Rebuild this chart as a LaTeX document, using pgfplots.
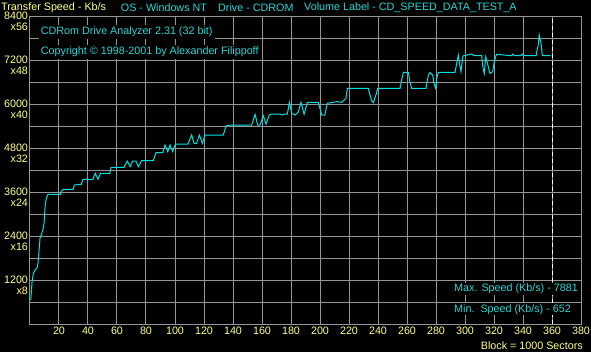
\documentclass[border=0pt]{standalone}
\usepackage{pgfplots}
\pgfplotsset{compat=1.18}
\usepackage{fontspec}
\setmainfont{Liberation Sans}
\definecolor{gridg}{RGB}{150,150,150}
\definecolor{ylw}{RGB}{255,255,140}
\definecolor{cyn}{RGB}{0,225,225}
\definecolor{tcyn}{RGB}{40,215,215}
\begin{document}
\begin{tikzpicture}
\fill[black] (-30bp,-28bp) rectangle (561bp,324bp);
\useasboundingbox (-30bp,-28bp) rectangle (561bp,324bp);
\begin{axis}[
  scale only axis, width=551bp, height=308bp,
  at={(0,0)}, anchor=south west,
  xmin=0, xmax=380, ymin=0, ymax=8400,
  xtick={20,40,...,380},
  ytick={600,1200,...,8400},
  yticklabels={{},{1200\\x8},{},{2400\\x16},{},{3600\\x24},{},{4800\\x32},{},{6000\\x40},{},{7200\\x48},{},{8400\\x56}},
  /pgf/number format/assume math mode=true,
  /pgf/number format/1000 sep={},
  grid=major, major grid style={gridg, line width=1bp},
  axis line style={gridg, line width=1bp},
  tick style={draw=none},
  tick label style={text=ylw, font=\fontsize{10.8}{11.5}\selectfont},
  yticklabel style={align=right, yshift=-5.5bp, xshift=1.5bp},
  xticklabel style={yshift=0.5bp},
  axis background/.style={fill=none},
]
\addplot[white, dashed, line width=1bp, dash pattern=on 4bp off 3bp] coordinates {(360,0) (360,8400)};
\addplot[cyn, line width=1bp, sharp plot] coordinates {
(0.5,652) (1.0,900) (1.4,1150) (2.2,1350) (2.8,1425) (3.7,1490) (4.8,1518)
(5.5,1655) (6.2,1970) (6.9,2337) (7.8,2427) (8.8,2563) (9.7,2745) (10.1,3018)
(10.6,3291) (11.3,3428) (12.4,3537) (20.9,3537) (21.6,3610) (22.8,3673)
(29.7,3673) (30.6,3791) (35.4,3810) (36.5,3946) (43.4,3946) (45.0,4110)
(46.9,3946) (48.7,4110) (55.0,4110) (55.9,4273) (64.8,4273) (67.1,4445)
(69.0,4290) (70.8,4445) (73.1,4445) (74.7,4290) (77.0,4454) (85.0,4454)
(86.9,4672) (91.5,4672) (93.1,4882) (95.0,4700) (96.6,4882) (98.4,4700)
(100.0,4882) (100.8,4909) (109.0,4909) (111.5,5154) (113.1,4927) (114.9,4927)
(116.8,5154) (118.9,4927) (120.7,5154) (133.3,5154) (135.2,5400) (137.9,5427)
(152.9,5427) (155.2,5718) (157.0,5427) (158.6,5427) (160.9,5680) (162.8,5450)
(165.0,5700) (166.7,5727) (172.4,5727) (174,5700) (175.6,5727) (177.5,5727)
(178.9,6046) (180.5,5745) (182.8,5700) (185.0,5780) (186.9,6046) (189.0,5718)
(191.3,6046) (198.8,6046) (201.2,5700) (203.4,5700) (205.0,6018) (211.5,6064)
(215.0,6046) (217.9,6155) (218.9,6427) (233.3,6427) (234.5,6245) (235.6,6091)
(236.8,6036) (239.0,6300) (239.8,6427) (255.2,6427) (256.3,6654) (257.5,6864)
(260.9,6864) (262.0,6610) (263.2,6427) (273.1,6427) (274.7,6790) (275.9,6864)
(277.7,6790) (278.6,6564) (279.8,6427) (280.5,6700) (281.6,6864) (293.1,6864)
(294.3,7109) (295.4,7336) (296.2,7109) (297.2,6882) (297.9,7109) (298.6,7309)
(299.3,7318) (304.6,7363) (306.3,7318) (311.5,7318) (312.0,7109) (312.6,6946)
(313.3,6836) (313.9,7109) (314.3,7290) (315.5,7109) (316.6,6927) (317.2,6836)
(319.1,6882) (320.0,7109) (321.1,7290) (321.8,7354) (332,7318) (333,7363)
(334,7318) (338.4,7318) (339.5,7363) (340.5,7318) (349.0,7318) (349.4,7409)
(350.5,7609) (351.2,7881) (352.6,7609) (353.2,7363) (353.6,7318) (359.1,7318)
};
\end{axis}
\begin{scope}[every node/.style={inner sep=0pt, font=\fontsize{10.8}{11.5}\selectfont}]
\node[anchor=west, text=ylw] at (-29bp,316.5bp) {Transfer Speed - Kb/s};
\node[anchor=west, text=tcyn] at (90.7bp,316.5bp) {OS - Windows NT};
\node[anchor=west, text=tcyn] at (188bp,316.5bp) {Drive - CDROM};
\node[anchor=west, text=tcyn] at (274bp,316.5bp) {Volume Label - CD\_SPEED\_DATA\_TEST\_A};
\node[anchor=west, text=tcyn, fill=black, inner sep=2bp] at (8.7bp,292bp) {CDRom Drive Analyzer 2.31 (32 bit)};
\node[anchor=west, text=tcyn, fill=black, inner sep=2bp] at (8.7bp,272.3bp) {Copyright © 1998-2001 by Alexander Filippoff};
\node[anchor=west, text=tcyn, fill=black, inner sep=1bp] at (423bp,35bp) {Max. Speed (Kb/s) - 7881};
\node[anchor=west, text=tcyn, fill=black, inner sep=1bp] at (423bp,14.7bp) {Min.\ \ Speed (Kb/s) - 652};
\node[anchor=east, text=ylw] at (553bp,-21.7bp) {Block = 1000 Sectors};
\end{scope}
\end{tikzpicture}
\end{document}
